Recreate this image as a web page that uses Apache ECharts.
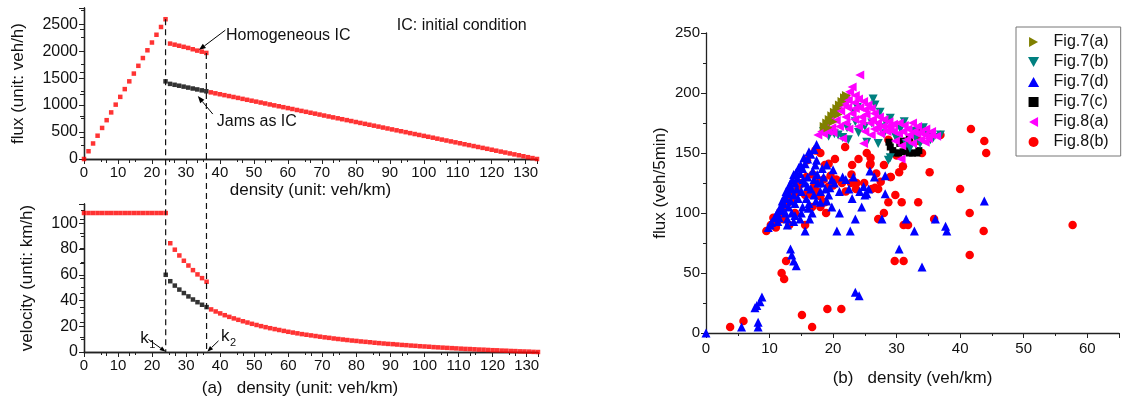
<!DOCTYPE html>
<html><head><meta charset="utf-8">
<script src="https://cdn.jsdelivr.net/npm/echarts@6/dist/echarts.min.js"></script>
<style>html,body{margin:0;padding:0;background:#fff}#c{width:1132px;height:398px}</style>
</head><body><div id="c"></div>
<script>
// ---------- (a) data: free-flow branch ----------
const densFree = [0,1.33,2.67,4,5.33,6.67,8,9.33,10.67,12,13.33,14.67,16,17.33,18.67,20,21.33,22.67,24];
const fluxFree = [0,144,288,432,576,720,864,1008,1152,1296,1440,1584,1728,1872,2016,2160,2304,2448,2592];
const velFree  = [108,108,108,108,108,108,108,108,108,108,108,108,108,108,108,108,108,108,108];
// homogeneous IC branch (k1..k2)
const densHomo = [25.33,26.67,28,29.33,30.67,32,33.33,34.67,36];
const fluxHomo = [2140,2120,2100,2080,2060,2035,2010,1990,1967];
const velHomo  = [84.5,79.5,75.0,70.9,67.2,63.6,60.3,57.4,54.6];
// jams as IC branch (k1..k2)
const densJam = [24,25.33,26.67,28,29.33,30.67,32,33.33,34.67,36];
const fluxJam = [1440,1393,1376,1359,1342,1324,1307,1290,1273,1256];
const velJam  = [60,55,51.6,48.5,45.8,43.2,40.8,38.7,36.7,34.9];
// congested branch
const densCong = [37.33,38.67,40,41.33,42.67,44,45.33,46.67,48,49.33,
  50.67,52,53.33,54.67,56,57.33,58.67,60,61.33,62.67,
  64,65.33,66.67,68,69.33,70.67,72,73.33,74.67,76,
  77.33,78.67,80,81.33,82.67,84,85.33,86.67,88,89.33,
  90.67,92,93.33,94.67,96,97.33,98.67,100,101.33,102.67,
  104,105.33,106.67,108,109.33,110.67,112,113.33,114.67,116,
  117.33,118.67,120,121.33,122.67,124,125.33,126.67,128,129.33,
  130.67,132,133.33];
const fluxCong = [1236,1218,1201,1184,1167,1150,1133,1115,1098,1081,
  1064,1047,1030,1012,995,978,961,944,927,909,
  892,875,858,841,824,806,789,772,755,738,
  721,704,686,669,652,635,618,601,583,566,
  549,532,515,498,480,463,446,429,412,395,
  377,360,343,326,309,292,274,257,240,223,
  206,189,172,154,137,120,103,86,69,51,
  34,17,0];
const velCong = [33.1,31.5,30.0,28.6,27.3,26.1,25.0,23.9,22.9,21.9,
  21.0,20.1,19.3,18.5,17.8,17.1,16.4,15.7,15.1,14.5,
  13.9,13.4,12.9,12.4,11.9,11.4,11.0,10.5,10.1,9.7,
  9.3,8.9,8.6,8.2,7.9,7.6,7.2,6.9,6.6,6.3,
  6.1,5.8,5.5,5.3,5.0,4.8,4.5,4.3,4.1,3.8,
  3.6,3.4,3.2,3.0,2.8,2.6,2.4,2.3,2.1,1.9,
  1.8,1.6,1.4,1.3,1.1,1.0,0.8,0.7,0.5,0.4,
  0.3,0.1,0];
const kMarks = [24, 36];

// ---------- (b) data: measured density / flux pairs ----------
const fig7a = [[18.6,172],[19.0,175],[19.4,178],[19.8,181],[20.2,184],[20.6,187],[21.0,190],[21.4,193],[21.8,196],[22.1,198],[19.2,171],[20.0,176],[20.8,182]];
const fig7b = [[18.5,168],[19.3,164],[20.2,166],[20.8,165],[21.5,163],[22.2,171],[22.4,161],[23.2,184],[23.5,176],[24.0,167],[25.3,159],[26.3,195],[26.6,190],[26.1,175],[27.1,158],[27.4,184],[27.4,171],[28.0,166],[28.7,144],[29.0,179],[29.0,146],[29.8,164],[30.0,162],[30.6,170],[31.5,158],[32.1,154],[32.6,168],[33.0,162],[33.7,158],[34.2,171],[34.8,165],[35.3,161],[35.8,163],[36.9,165],[25.0,172],[23.8,188],[28.3,175],[31.2,176]];
const fig7d = [[9.8,88],[10.3,92],[10.8,96],[11.2,100],[11.7,104],[12.2,108],[12.6,112],[13.0,116],[13.5,120],[14.0,125],[14.4,129],[14.8,133],[15.2,137],[15.6,141],[16.0,145],[16.5,149],[17.0,153],[17.4,157],
  [11.5,96],[12.0,102],[12.5,100],[12.8,95],[13.0,105],[13.3,110],[13.5,100],[13.8,115],[14.0,108],[14.3,120],[14.5,112],[14.8,95],[15.0,118],[15.2,105],[15.5,125],[15.6,85],[15.8,112],[16.0,130],[16.1,104],[16.3,95],[16.5,120],[16.8,135],[17.0,115],[17.2,140],[17.4,144],[17.6,125],[18.0,109],[18.2,125],[18.5,130],[19.0,140],[19.3,115],[19.5,121],[20.0,136],[20.6,85],[21.0,118],[22.7,85],[23.2,130],[23.5,95],[24.5,105],[24.8,122],[25.0,115],[25.3,116],[25.6,120],[25.8,135],[26.5,130],[27.7,95],[28.2,131],[28.2,116],[30.4,70],[31.5,95],[32.8,85],[34.0,55],[36.1,95],[37.7,89],[37.9,85],[43.8,110],[23.5,34],[24.1,31],[13.3,70],[13.5,65],[13.8,60],[14.2,56],[5.6,5],[7.7,21],[8.0,23],[8.5,26],[8.8,30],[8.2,9],[8.2,5],[0,0],[10.1,90],[12.8,90],[14.0,98],[16.2,108],[18.8,120],[19.8,128],[22.0,128],[24.2,118],
  [11.0,98],[11.8,106],[12.4,114],[13.0,121],[13.6,128],[14.2,134],[14.9,140],[15.4,146],[16.2,151],[12.0,110],[12.6,118],[13.2,124],[13.8,132],[14.6,138],[15.3,128],[16.0,122],[17.0,128],[17.5,132],[18.3,137],[18.0,118],[17.3,110],[16.7,100],[19.0,110],[20.2,125],[21.5,130],[22.5,120],[23.0,112],[19.8,105],[21.0,100],[15.0,100],[11.3,93],[13.8,93]];
const fig7c = [[28.8,159],[29.0,155],[29.4,152],[29.8,150],[30.3,150],[31.0,151],[31.5,155],[32.0,150],[32.5,150],[33.2,150],[33.5,152],[31.0,160],[32.0,163],[33.2,169],[30.5,158]];
const fig8a = [[17.6,165],[18.2,168],[18.8,172],[19.5,178],[20.2,183],[20.8,188],[21.5,193],[22.0,197],[22.6,201],[23.0,205],[24.2,215],[23.5,198],[24.0,195],[24.8,193],[25.5,190],[26.0,187],[26.5,183],[27.3,180],[28.0,178],[28.8,176],[29.5,174],[30.4,175],[31.2,173],[32.5,175],[33.3,172],[34.6,170],[35.5,168],[36.3,164],[33.2,166],[33.8,161],[31.6,161],[30.8,156],[30.7,145],[29.0,171],[27.0,171],[25.8,175],[24.5,180],[23.0,183],[22.0,180],[21.0,172],[20.0,167],[22.5,170],[24.0,172],[25.0,168],[26.0,165],[27.5,166],[23.5,187],[22.3,188],[25.2,182],[28.5,168],[19.2,168],[24.8,158],[21.5,162],[35.0,162],[32.0,165],
  [18.5,166],[19.8,171],[20.5,177],[21.2,185],[21.8,190],[22.4,194],[23.4,192],[24.2,188],[25.0,186],[26.2,178],[27.0,175],[27.8,172],[28.6,172],[29.5,168],[30.3,166],[31.0,168],[31.8,170],[32.8,168],[33.8,167],[34.5,165],[35.5,165],[26.5,170],[24.5,176],[23.4,178],[22.0,175],[29.8,160],[32.5,158],[34.5,159]];
const fig8b = [[3.8,5],[5.9,10],[15.1,15],[16.7,5],[19.1,20],[21.3,20],[11.9,50],[12.3,45],[12.6,60],[9.5,85],[13.1,90],[18.9,100],[18.0,105],[16.7,105],[15.6,90],[21.4,125],[23.7,125],[24.9,125],[26.1,120],[27.1,120],[28.7,109],[29.8,115],[30.8,109],[31.1,90],[31.8,90],[28.0,100],[27.1,95],[29.7,60],[31.1,60],[25.8,140],[30.4,134],[29.1,130],[35.2,134],[33.4,109],[40.0,120],[41.5,100],[43.7,85],[41.5,65],[35.9,95],[57.7,90],[41.7,170],[43.8,160],[44.1,150],[36.9,165],[34.0,150],[31.0,139],[21.9,155],[20.3,145],[25.3,150],[25.9,146],[25.9,141],[18.0,150],[22.9,132],[29.0,130],[28.7,161],[18.7,140],[18.5,128],[19.3,122],[26.6,121],[19.3,141],[17.2,152],[15.9,144],[22.8,125],[23.6,120],[10.6,96],[11.7,101],[15.6,115],[16.6,115],[18.0,114],[18.7,109],[12.5,105],[13.2,110],[13.8,115],[14.5,120],[15.0,125],[15.8,130],[14.0,100],[12.0,95],[16.8,132],[11.0,88],[20.0,123],[17.5,118],[32.0,160],[30.0,148],[33.5,160],
  [10.2,90],[10.8,92],[11.5,98],[12.2,104],[12.8,108],[13.5,112],[14.2,118],[14.8,124],[16.2,118],[17.0,122],[17.8,126],[19.6,131],[20.5,128],[22.0,118],[23.0,140],[24.0,145],[26.8,133],[27.5,126],[28.0,140]];

// ---------- chart ----------
const F = 'Liberation Sans';
const AX = '#222';
const pair = (xs, ys) => xs.map((x, i) => [x, ys[i]]);
const chart = echarts.init(document.getElementById('c'));

const tickFmt = step => v => (Math.abs(v / step - Math.round(v / step)) < 1e-6 ? String(Math.round(v)) : '');
const lbl = {fontFamily: F, fontSize: 15, color: '#111'};
const lblY = {fontFamily: F, fontSize: 16, color: '#111'};
const nameStyle = {fontFamily: F, fontSize: 17, color: '#111'};
const line = {show: true, lineStyle: {color: AX, width: 1.3}};

function mainX(grid, name, gap, pad) {
  return {type: 'value', gridIndex: grid, position: 'bottom', min: 0, max: 133.33, interval: 10,
    name: name, nameLocation: 'middle', nameGap: gap, nameTextStyle: Object.assign({padding: pad || 0}, nameStyle),
    axisLine: line, axisTick: {show: true, length: 5, lineStyle: {color: AX}},
    minorTick: {show: true, splitNumber: 2, length: 3, lineStyle: {color: AX}},
    axisLabel: Object.assign({margin: 6, formatter: tickFmt(10)}, lbl), splitLine: {show: false}};
}
function topX(grid) {
  return {type: 'value', gridIndex: grid, position: 'top', min: 0, max: 133.33, interval: 6.6665,
    axisLine: line, axisTick: {show: true, inside: true, length: 4, lineStyle: {color: AX}},
    axisLabel: {show: false}, splitLine: {show: false}};
}
function sideY(grid, max, interval) {
  return {type: 'value', gridIndex: grid, position: 'right', min: 0, max: max, interval: interval,
    axisLine: line, axisTick: {show: true, inside: true, length: 4, lineStyle: {color: AX}},
    axisLabel: {show: false}, splitLine: {show: false}};
}
const sq = (color) => ({type: 'scatter', symbol: 'rect', symbolSize: 4.5, itemStyle: {color: color}, animation: false});

const SYM = {
  up: 'path://M5,0L10,9L0,9Z',
  down: 'path://M0,0L10,0L5,9Z',
  left: 'path://M9,0L0,5L9,10Z',
  right: 'path://M0,0L9,5L0,10Z',
  square: 'path://M0,0L10,0L10,10L0,10Z'
};

const option = {
  animation: false,
  backgroundColor: '#fff',
  textStyle: {fontFamily: F},
  grid: [
    {left: 84, top: 8, width: 453, height: 151},
    {left: 84, top: 204, width: 454, height: 149},
    {left: 706, top: 33, width: 413, height: 300}
  ],
  xAxis: [
    mainX(0, 'density (unit: veh/km)', 23),
    topX(0),
    mainX(1, '(a)   density (unit: veh/km)', 28, [0, 22, 0, 0]),
    topX(1),
    {type: 'value', gridIndex: 2, min: 0, max: 65, interval: 10,
      name: '(b)   density (veh/km)', nameLocation: 'middle', nameGap: 37, nameTextStyle: nameStyle,
      axisLine: line, axisTick: {show: true, length: 5, lineStyle: {color: AX}},
      minorTick: {show: true, splitNumber: 2, length: 3, lineStyle: {color: AX}},
      axisLabel: Object.assign({margin: 8, formatter: tickFmt(10)}, lbl), splitLine: {show: false}}
  ],
  yAxis: [
    {type: 'value', gridIndex: 0, min: 0, max: 2800, interval: 500,
      name: 'flux (unit: veh/h)', nameLocation: 'middle', nameGap: 57, nameTextStyle: nameStyle,
      axisLine: line, axisTick: {show: true, length: 5, lineStyle: {color: AX}},
      minorTick: {show: true, splitNumber: 2, length: 3, lineStyle: {color: AX}},
      axisLabel: Object.assign({margin: 6, formatter: tickFmt(500)}, lblY), splitLine: {show: false}},
    sideY(0, 2800, 400),
    {type: 'value', gridIndex: 1, min: 0, max: 115, interval: 20,
      name: 'velocity (unti: km/h)', nameLocation: 'middle', nameGap: 48, nameTextStyle: nameStyle,
      axisLine: line, axisTick: {show: true, length: 5, lineStyle: {color: AX}},
      minorTick: {show: true, splitNumber: 2, length: 3, lineStyle: {color: AX}},
      axisLabel: Object.assign({margin: 6, formatter: tickFmt(20)}, lblY), splitLine: {show: false}},
    sideY(1, 115, 11.5),
    {type: 'value', gridIndex: 2, min: 0, max: 250, interval: 50,
      name: 'flux (veh/5min)', nameLocation: 'middle', nameGap: 37, nameTextStyle: nameStyle,
      axisLine: line, axisTick: {show: true, length: 5, lineStyle: {color: AX}},
      minorTick: {show: true, splitNumber: 2, length: 3, lineStyle: {color: AX}},
      axisLabel: Object.assign({margin: 6, formatter: tickFmt(50)}, lbl), splitLine: {show: false}}
  ],
  legend: {
    orient: 'vertical', left: 1016, top: 27, padding: [7, 12, 6, 12],
    itemWidth: 30, itemHeight: 10, itemGap: 4,
    borderColor: '#777', borderWidth: 1, selectedMode: false,
    textStyle: {fontFamily: F, fontSize: 16, color: '#111'},
    data: ['Fig.7(a)', 'Fig.7(b)', 'Fig.7(d)', 'Fig.7(c)', 'Fig.8(a)', 'Fig.8(b)']
  },
  series: [
    Object.assign(sq('#ff0000'), {name: 'freeQ', xAxisIndex: 0, yAxisIndex: 0, data: pair(densFree, fluxFree)}),
    Object.assign(sq('#ff0000'), {name: 'homoQ', xAxisIndex: 0, yAxisIndex: 0, data: pair(densHomo, fluxHomo)}),
    Object.assign(sq('#000000'), {name: 'jamQ', xAxisIndex: 0, yAxisIndex: 0, data: pair(densJam, fluxJam)}),
    Object.assign(sq('#ff0000'), {name: 'congQ', xAxisIndex: 0, yAxisIndex: 0, data: pair(densCong, fluxCong)}),
    Object.assign(sq('#ff0000'), {name: 'freeV', xAxisIndex: 2, yAxisIndex: 2, data: pair(densFree, velFree)}),
    Object.assign(sq('#ff0000'), {name: 'homoV', xAxisIndex: 2, yAxisIndex: 2, data: pair(densHomo, velHomo)}),
    Object.assign(sq('#000000'), {name: 'jamV', xAxisIndex: 2, yAxisIndex: 2, data: pair(densJam, velJam)}),
    Object.assign(sq('#ff0000'), {name: 'congV', xAxisIndex: 2, yAxisIndex: 2, data: pair(densCong, velCong)}),
    {type: 'scatter', name: 'Fig.8(b)', xAxisIndex: 4, yAxisIndex: 4, symbol: 'circle', symbolSize: 8.5, itemStyle: {color: '#ff0000', opacity: 1}, data: fig8b},
    {type: 'scatter', name: 'Fig.7(c)', xAxisIndex: 4, yAxisIndex: 4, symbol: SYM.square, symbolSize: 7, itemStyle: {color: '#000000', opacity: 1}, data: fig7c},
    {type: 'scatter', name: 'Fig.7(d)', xAxisIndex: 4, yAxisIndex: 4, symbol: SYM.up, symbolSize: 9, itemStyle: {color: '#0000ff', opacity: 1}, data: fig7d},
    {type: 'scatter', name: 'Fig.7(b)', xAxisIndex: 4, yAxisIndex: 4, symbol: SYM.down, symbolSize: 9, itemStyle: {color: '#008080', opacity: 1}, data: fig7b},
    {type: 'scatter', name: 'Fig.8(a)', xAxisIndex: 4, yAxisIndex: 4, symbol: SYM.left, symbolSize: 9, itemStyle: {color: '#ff00ff', opacity: 1}, data: fig8a},
    {type: 'scatter', name: 'Fig.7(a)', xAxisIndex: 4, yAxisIndex: 4, symbol: SYM.right, symbolSize: 9, itemStyle: {color: '#808000', opacity: 1}, data: fig7a}
  ]
};
chart.setOption(option);

// ---------- annotations positioned through the axes ----------
const P0 = p => chart.convertToPixel({xAxisIndex: 0, yAxisIndex: 0}, p);
const P1 = p => chart.convertToPixel({xAxisIndex: 2, yAxisIndex: 2}, p);
function arrow(a, b, size) {
  size = size || 7;
  const dx = b[0] - a[0], dy = b[1] - a[1], L = Math.hypot(dx, dy), ux = dx / L, uy = dy / L;
  const base = [b[0] - ux * size, b[1] - uy * size], w = size * 0.38;
  return [
    {type: 'line', silent: true, shape: {x1: a[0], y1: a[1], x2: base[0], y2: base[1]}, style: {stroke: '#000', lineWidth: 1}},
    {type: 'polygon', silent: true, shape: {points: [b, [base[0] - uy * w, base[1] + ux * w], [base[0] + uy * w, base[1] - ux * w]]}, style: {fill: '#000'}}
  ];
}
function txt(p, s, align, size, dx, dy) {
  return {type: 'text', silent: true, x: p[0] + (dx || 0), y: p[1] + (dy || 0),
    style: {text: s, fill: '#111', font: (size || 16) + 'px "' + F + '"', textAlign: align || 'left', textVerticalAlign: 'middle'}};
}
const g = [];
// dashed k1 / k2 lines spanning both panels
g.push({type: 'line', silent: true, shape: {x1: P0([kMarks[0], 0])[0], y1: P0([kMarks[0], fluxFree[fluxFree.length - 1]])[1], x2: P1([kMarks[0], 0])[0], y2: P1([kMarks[0], 0])[1]},
  style: {stroke: '#111', lineWidth: 1.2, lineDash: [6, 4]}, z: 10});
g.push({type: 'line', silent: true, shape: {x1: P0([kMarks[1], 0])[0], y1: P0([kMarks[1], fluxHomo[fluxHomo.length - 1]])[1], x2: P1([kMarks[1], 0])[0], y2: P1([kMarks[1], 0])[1]},
  style: {stroke: '#111', lineWidth: 1.2, lineDash: [6, 4]}, z: 10});
// labels
g.push(txt(P0([41.8, 2296]), 'Homogeneous IC', 'left', 16));
g.push(...arrow(P0([41.6, 2389]), P0([33.8, 2019])));
g.push(txt(P0([39.1, 685]), 'Jams as IC', 'left', 16));
g.push(...arrow(P0([37.9, 833]), P0([33.5, 1167])));
g.push(txt(P0([130.3, 2481]), 'IC: initial condition', 'right', 16));
// k1, k2
g.push(txt(P1([16.5, 11.0]), 'k', 'left', 17));
g.push(txt(P1([16.5, 11.0]), '1', 'left', 11, 9, 7));
g.push(...arrow(P1([18.9, 9.8]), P1([24.0, 0.2]), 6));
g.push(txt(P1([40.2, 12.3]), 'k', 'left', 17));
g.push(txt(P1([40.2, 12.3]), '2', 'left', 11, 9, 7));
g.push(...arrow(P1([39.5, 8.7]), P1([36.2, 0.2]), 6));
chart.setOption({graphic: g});
</script>
</body></html>
